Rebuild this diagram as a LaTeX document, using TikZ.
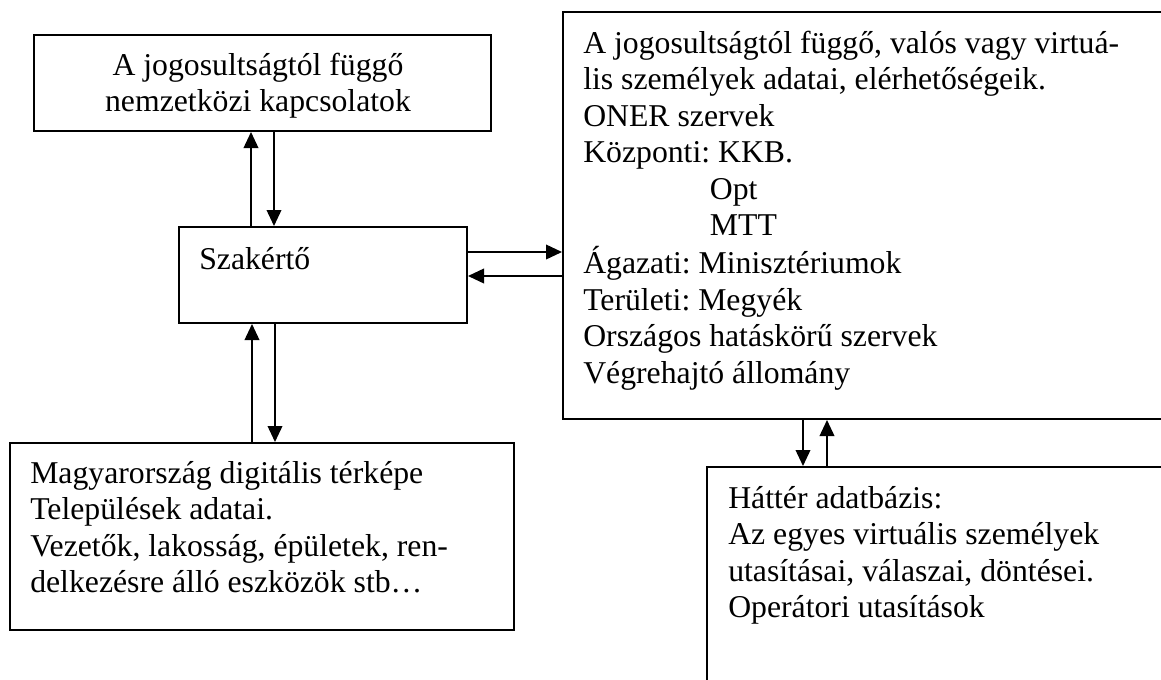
\documentclass[tikz,border=0pt]{standalone}
\usepackage{fontspec}
\setmainfont{Liberation Serif}
\usetikzlibrary{arrows.meta,fit}
\frenchspacing
\begin{document}
\begin{tikzpicture}[x=0.75pt,y=-0.75pt,
  box/.style={draw, line width=1.5pt, inner sep=0pt},
  txt/.style={inner sep=0pt, font=\fontsize{23.8pt}{27.4pt}\selectfont},
  link/.style={line width=1.2pt, -{Triangle[length=12pt,width=11pt]}}]
\useasboundingbox (0,0) rectangle (1161,679);
\clip (0,0) rectangle (1161,679);

% boxes
\node[box, fit={(34,35) (491,131)}] (intl) {};
\node[box, fit={(179,227) (467,323)}] (expert) {};
\node[box, fit={(563,12) (1180,419)}] (persons) {};
\node[box, fit={(10,443) (514,630)}] (map) {};
\node[box, fit={(707,467) (1180,700)}] (backdb) {};

% texts
\node[txt, anchor=base] (intltext) at (258,75)
  {\begin{tabular}[t]{@{}c@{}}A jogosultságtól függő\\nemzetközi kapcsolatok\end{tabular}};
\node[txt, anchor=base west] (experttext) at (199,269) {Szakértő};
\node[txt, anchor=base west] (personstext) at (583,53)
  {\begin{tabular}[t]{@{}l@{}}
   A jogosultságtól függő, valós vagy virtuá-\\
   lis személyek adatai, elérhetőségeik.\\
   ONER szervek\\
   Központi: KKB.\\
   \hspace*{95pt}Opt\\
   \hspace*{95pt}MTT\\
   Ágazati: Minisztériumok\\
   Területi: Megyék\\
   Országos hatáskörű szervek\\
   Végrehajtó állomány
  \end{tabular}};
\node[txt, anchor=base west] (maptext) at (30,483)
  {\begin{tabular}[t]{@{}l@{}}
   Magyarország digitális térképe\\
   Települések adatai.\\
   Vezetők, lakosság, épületek, ren-\\
   delkezésre álló eszközök stb…
  \end{tabular}};
\node[txt, anchor=base west] (backdbtext) at (728,508)
  {\begin{tabular}[t]{@{}l@{}}
   Háttér adatbázis:\\
   Az egyes virtuális személyek\\
   utasításai, válaszai, döntései.\\
   Operátori utasítások
  \end{tabular}};

% arrow columns and rows
\coordinate (c1) at (251,0);
\coordinate (c2) at (274,0);
\coordinate (c3) at (252,0);
\coordinate (c4) at (275,0);
\coordinate (c5) at (803,0);
\coordinate (c6) at (827,0);
\coordinate (r1) at (0,252);
\coordinate (r2) at (0,276);

% connectors
\draw[link] (expert.north -| c1) -- (intl.south -| c1);
\draw[link] (intl.south -| c2) -- (expert.north -| c2);
\draw[link] (map.north -| c3) -- (expert.south -| c3);
\draw[link] (expert.south -| c4) -- (map.north -| c4);
\draw[link] (expert.east |- r1) -- (persons.west |- r1);
\draw[link] (persons.west |- r2) -- (expert.east |- r2);
\draw[link] (persons.south -| c5) -- (backdb.north -| c5);
\draw[link] (backdb.north -| c6) -- (persons.south -| c6);
\end{tikzpicture}
\end{document}
